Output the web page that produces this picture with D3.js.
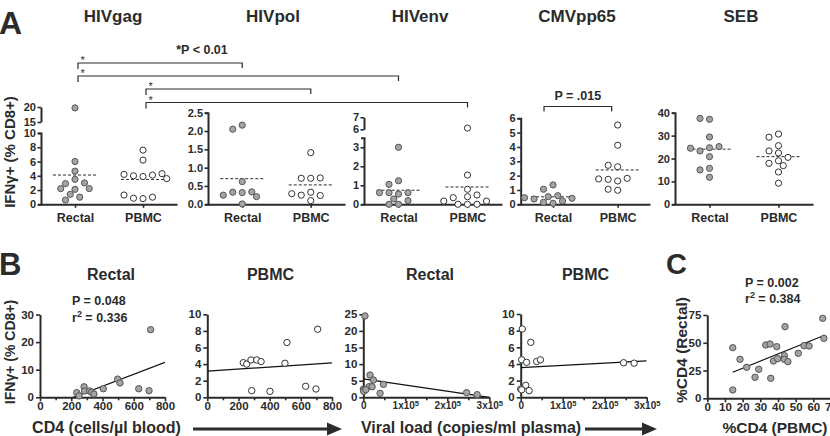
<!DOCTYPE html>
<html><head><meta charset="utf-8">
<script src="https://cdn.jsdelivr.net/npm/d3@7"></script>
<style>
body{margin:0;background:#fff;}
svg text{font-family:"Liberation Sans",Arial,Helvetica,sans-serif;font-weight:bold;fill:#2b2b2b;}
</style></head><body><svg id="c" width="830" height="436"></svg>
<script>
// ================= DATA =================
const groupNames = ["Rectal", "PBMC"];
const antigenNames = ["HIVgag", "HIVpol", "HIVenv", "CMVpp65", "SEB"];

// Panel A: IFNg+ (% CD8+) per subject
const gagRectal = [19.7, 6.0, 4.65, 3.5, 2.9, 3.0, 2.1, 2.2, 2.2, 1.4, 1.0, 0.6];
const gagPBMC   = [7.6, 6.2, 3.9, 4.0, 4.1, 4.2, 4.3, 3.6, 0.8, 0.85, 1.0, 1.3];
const polRectal = [2.16, 2.05, 0.62, 0.32, 0.33, 0.34, 0.25, 0.21, 0.01];
const polPBMC   = [1.41, 0.71, 0.71, 0.72, 0.1, 0.33, 0.25, 0.24, 0.29];
const envRectal = [3.0, 1.24, 1.05, 0.54, 0.61, 0.61, 0.61, 0.0, 0.0, 0.19, 0.28];
const envPBMC   = [6.1, 1.54, 0.79, 0.0, 0.0, 0.0, 0.4, 0.35, 0.49, 0.17, 0.17];
const cmvRectal = [1.35, 1.05, 0.07, 0.14, 0.23, 0.37, 0.42, 0.46, 0.53, 0.6];
const cmvPBMC   = [5.53, 4.12, 2.62, 2.72, 1.63, 1.74, 1.81, 1.77, 0.98, 1.05];
const sebRectal = [37.1, 37.5, 29.4, 24.7, 23.3, 25.2, 24.5, 20.8, 15.7, 15.0, 11.8];
const sebPBMC   = [30.7, 29.3, 25.6, 22.4, 23.3, 19.0, 20.5, 17.9, 16.9, 14.1, 9.2];

// Panel A tick labels
const gagTicksLow = [0, 2, 4, 6, 8, 10], gagTicksHigh = [15, 20];
const polTicks = [0, 0.5, 1.0, 1.5, 2.0, 2.5];
const envTicksLow = [0, 1, 2, 3], envTicksHigh = [6, 7];
const cmvTicks = [0, 1, 2, 3, 4, 5, 6];
const sebTicks = [0, 10, 20, 30, 40];

// Panel A significance
const sigLabel = "*P < 0.01";
const sigPairs = [ // [antigen, group] -> [antigen, group]
  ["HIVgag", "Rectal", "HIVpol", "Rectal"],
  ["HIVgag", "Rectal", "HIVenv", "Rectal"],
  ["HIVgag", "PBMC", "HIVpol", "PBMC"],
  ["HIVgag", "PBMC", "HIVenv", "PBMC"]
];
const cmvLabel = "P = .015";

// Panel B: CD4 count vs IFNg+
const cd4Rectal  = [708, 235, 250, 282, 285, 318, 330, 345, 405, 497, 512, 632, 698];
const ifnRectalB = [24.5, 1.7, 0.5, 3.8, 2.3, 2.3, 1.8, 1.2, 3.1, 6.6, 5.2, 3.1, 2.4];
const cd4PBMC    = [231, 253, 280, 317, 345, 285, 402, 498, 511, 631, 697, 708];
const ifnPBMCB   = [4.17, 4.0, 4.5, 4.5, 4.3, 0.8, 0.72, 4.1, 6.6, 1.33, 1.0, 8.2];
// Panel B: viral load vs IFNg+
const vlRectal   = [4000, 0, 4000, 16000, 24000, 13500, 21000, 48000, 40000, 246000, 271000, 1000, 6000];
const ifnRectalV = [24.5, 2.4, 2.4, 6.7, 5.2, 3.2, 3.2, 3.9, 1.2, 1.4, 0.8, 1.8, 2.3];
const vlPBMC     = [3800, 24000, 2400, 14000, 38000, 47000, 12000, 0, 2400, 20000, 245000, 270000];
const ifnPBMCV   = [8.2, 6.6, 4.5, 4.2, 4.3, 4.5, 1.44, 1.0, 0.9, 0.8, 4.15, 4.1];
const statsB1 = ["P = 0.048", "0.336"];
const statsC  = ["P = 0.002", "0.384"];

// Panel C: %CD4 PBMC vs %CD4 rectal
const cd4pctPBMC   = [14.4, 14.4, 18.5, 22.3, 27.0, 29.1, 33.1, 35.5, 35.9, 39.3, 37.4, 39.8, 43.6, 44.0, 43.6, 45.6, 51.5, 54.7, 57.6, 65.3, 66.0];
const cd4pctRectal = [45.6, 7.5, 35.1, 27.9, 18.9, 26.1, 48.0, 48.9, 18.0, 46.5, 33.6, 35.7, 38.4, 64.5, 35.1, 33.0, 40.5, 47.4, 47.1, 72.0, 54.0];

const cd4Ticks = [0, 200, 400, 600, 800], cd4Minor = [100, 300, 500, 700];
const vlTicks = [0, 100000, 200000, 300000], vlMinor = [50000, 150000, 250000];
const pctTicks = [0, 10, 20, 30, 40, 50, 60, 70];

// ================= DRAWING =================
const FONT = '"Liberation Sans", Arial, Helvetica, sans-serif';
const INK = "#2b2b2b", GREY = "#a4a4a4";
const svg = d3.select("#c");

function styleAxis(g, fs) {
  g.attr("font-family", null).attr("font-size", null);
  g.select(".domain").attr("stroke", INK).attr("stroke-width", 2);
  g.selectAll(".tick line").attr("stroke", INK).attr("stroke-width", 1.6);
  g.selectAll(".tick text").attr("fill", INK).style("font-size", fs + "px")
    .style("font-weight", "bold").style("font-family", FONT);
}
function txt(x, y, s, fs, anchor, rot) {
  const t = svg.append("text").attr("font-size", fs).attr("text-anchor", anchor || "start").text(s);
  if (rot) t.attr("transform", `translate(${x},${y}) rotate(${rot})`); else t.attr("x", x).attr("y", y);
  return t;
}
function swarm(vals, cx, yf, r, h) {
  const placed = [];
  vals.forEach(v => {
    const y = yf(v);
    for (let k = 0; k < 60; k++) {
      const n = Math.ceil(k / 2), off = k === 0 ? 0 : (k % 2 ? -n : n) * h;
      const x = cx + off;
      if (placed.every(p => Math.hypot(p.x - x, p.y - y) >= 2 * r + 0.5)) { placed.push({ x, y, v }); break; }
    }
  });
  return placed;
}

// ---- Panel A ----
const Y0 = 204.3;
const panelsA = [
  { name: "HIVgag", data: [gagRectal, gagPBMC], x: [41, 177], tx: 113,
    low: [0, 10], lowR: [Y0, 133], lowT: gagTicksLow, high: [15, 20], highR: [122, 107], highT: gagTicksHigh, fmt: d3.format("d") },
  { name: "HIVpol", data: [polRectal, polPBMC], x: [208, 345], tx: 273,
    low: [0, 2.5], lowR: [Y0, 112.7], lowT: polTicks, fmt: d3.format(".1f") },
  { name: "HIVenv", data: [envRectal, envPBMC], x: [364, 502], tx: 420,
    low: [0, 3.5], lowR: [Y0, 137.8], lowT: envTicksLow, high: [6, 7], highR: [129.3, 117.3], highT: envTicksHigh, fmt: d3.format("d") },
  { name: "CMVpp65", data: [cmvRectal, cmvPBMC], x: [520.7, 650], tx: 577,
    low: [0, 6], lowR: [Y0, 118.3], lowT: cmvTicks, fmt: d3.format("d") },
  { name: "SEB", data: [sebRectal, sebPBMC], x: [675, 813], tx: 741,
    low: [0, 40], lowR: [Y0, 112.7], lowT: sebTicks, fmt: d3.format("d") }
];
const catPos = {};
panelsA.forEach((p, i) => {
  const xs = d3.scalePoint().domain(groupNames).range(p.x).padding(0.5);
  const yl = d3.scaleLinear().domain(p.low).range(p.lowR);
  const yh = p.high ? d3.scaleLinear().domain(p.high).range(p.highR) : null;
  const yf = v => (yh && v > p.low[1]) ? yh(v) : yl(v);
  catPos[p.name] = g => xs(g);

  txt(p.tx, 22, antigenNames[i], 17, "middle");

  const ga = svg.append("g").attr("transform", `translate(${p.x[0]},0)`)
    .call(d3.axisLeft(yl).tickValues(p.lowT).tickFormat(p.fmt).tickSize(3.5).tickPadding(1.5).tickSizeOuter(3));
  styleAxis(ga, 11);
  if (yh) {
    const gh = svg.append("g").attr("transform", `translate(${p.x[0]},0)`)
      .call(d3.axisLeft(yh).tickValues(p.highT).tickFormat(p.fmt).tickSize(3.5).tickPadding(1.5).tickSizeOuter(0));
    styleAxis(gh, 11);
  }
  const gx = svg.append("g").attr("transform", `translate(0,${Y0})`)
    .call(d3.axisBottom(xs).tickSize(3.5).tickPadding(5.5).tickSizeOuter(0));
  styleAxis(gx, 12.5);

  p.data.forEach((vals, gi) => {
    const cx = xs(groupNames[gi]);
    const m = d3.mean(vals);
    svg.append("line").attr("x1", cx - 22).attr("x2", cx + 22).attr("y1", yf(m)).attr("y2", yf(m))
      .attr("stroke", INK).attr("stroke-width", 1).attr("stroke-dasharray", "3,2");
    const pts = swarm(vals, cx, yf, 3.1, 4.75);
    svg.selectAll(null).data(pts).enter().append("circle")
      .attr("cx", d => d.x).attr("cy", d => d.y).attr("r", 3.1)
      .attr("fill", gi === 0 ? GREY : "#fff").attr("stroke", gi === 0 ? "#555" : "#333").attr("stroke-width", 1);
  });
});
// significance brackets
const bracketY = [63, 76, 89, 102.5];
sigPairs.forEach((s, i) => {
  const xa = catPos[s[0]](s[1]) + 3, xb = catPos[s[2]](s[3]);
  const yb = bracketY[i];
  svg.append("path").attr("d", `M${xa},${yb + 6}V${yb}H${xb}V${yb + 5}`)
    .attr("fill", "none").attr("stroke", INK).attr("stroke-width", 1.2);
  svg.append("text").attr("x", xa + 2.5).attr("y", yb + 1).attr("font-size", 11)
    .style("font-weight", "normal").text("*");
});
txt(202, 54, sigLabel, 12.5, "middle");
{
  const xa = catPos["CMVpp65"]("Rectal") - 9, xb = catPos["CMVpp65"]("PBMC") - 6;
  svg.append("path").attr("d", `M${xa},111.5V106.5H${xb}V111.5`).attr("fill", "none").attr("stroke", INK).attr("stroke-width", 1.2);
  txt((xa + xb) / 2, 100, cmvLabel, 12.5, "middle");
}
txt(15, 152, "IFNγ+ (% CD8+)", 15, "middle", -90);
txt(-1, 34, "A", 32);

// ---- Panels B & C ----
function fit(xs, ys) {
  const mx = d3.mean(xs), my = d3.mean(ys);
  let sxy = 0, sxx = 0;
  xs.forEach((x, i) => { sxy += (x - mx) * (ys[i] - my); sxx += (x - mx) * (x - mx); });
  const b = sxy / sxx;
  return { b, a: my - b * mx };
}
function supFmt(sel) {
  sel.each(function (d) {
    const t = d3.select(this); t.text(null);
    if (d === 0) { t.text("0"); return; }
    t.append("tspan").text((d / 1e5) + "x10");
    t.append("tspan").attr("dy", "-0.45em").style("font-size", "7.5px").text("5");
  });
}
let clipN = 0;
function scatter(o) {
  const x = d3.scaleLinear().domain(o.xd).range([o.x0, o.x1]);
  const y = d3.scaleLinear().domain(o.yd).range([o.y0, o.y1]);
  txt(o.tx, 280, o.title, 16, "middle");
  const gy = svg.append("g").attr("transform", `translate(${o.x0},0)`)
    .call(d3.axisLeft(y).tickValues(o.yt).tickSize(4).tickPadding(2).tickSizeOuter(0));
  styleAxis(gy, 11.5);
  const gx = svg.append("g").attr("transform", `translate(0,${o.y0})`)
    .call(d3.axisBottom(x).tickValues(o.xt).tickSize(4).tickPadding(1).tickSizeOuter(0)
      .tickFormat(o.sup ? d => d : d3.format("d")));
  styleAxis(gx, o.sup ? 10 : 11.5);
  if (o.sup) supFmt(gx.selectAll(".tick text"));
  if (o.xm) {
    const gm = svg.append("g").attr("transform", `translate(0,${o.y0})`)
      .call(d3.axisBottom(x).tickValues(o.xm).tickSize(3).tickFormat("").tickSizeOuter(0));
    styleAxis(gm, 10); gm.select(".domain").remove();
  }
  const id = "clip" + (clipN++);
  svg.append("clipPath").attr("id", id).append("rect")
    .attr("x", o.x0).attr("y", o.y1).attr("width", o.x1 - o.x0).attr("height", o.y0 - o.y1);
  const f = fit(o.xs, o.ys);
  const ext = o.lineData ? d3.extent(o.xs) : o.xd;
  svg.append("line").attr("clip-path", `url(#${id})`)
    .attr("x1", x(ext[0])).attr("y1", y(f.a + f.b * ext[0]))
    .attr("x2", x(ext[1])).attr("y2", y(f.a + f.b * ext[1]))
    .attr("stroke", "#111").attr("stroke-width", 1.2);
  svg.selectAll(null).data(o.xs).enter().append("circle")
    .attr("cx", d => x(d)).attr("cy", (d, i) => y(o.ys[i])).attr("r", 3.2)
    .attr("fill", o.filled ? GREY : "#fff").attr("stroke", o.filled ? "#555" : "#333").attr("stroke-width", 1);
}
scatter({ x0: 40, x1: 165, y0: 397.3, y1: 314.5, xd: [0, 800], yd: [0, 30], xt: cd4Ticks, xm: cd4Minor, yt: [0, 10, 20, 30],
  xs: cd4Rectal, ys: ifnRectalB, filled: true, title: groupNames[0], tx: 111 });
scatter({ x0: 207.3, x1: 332, y0: 397.3, y1: 314.3, xd: [0, 800], yd: [0, 10], xt: cd4Ticks, xm: cd4Minor, yt: [0, 2, 4, 6, 8, 10],
  xs: cd4PBMC, ys: ifnPBMCB, filled: false, title: groupNames[1], tx: 270.5 });
scatter({ x0: 363.3, x1: 489.3, y0: 397.3, y1: 314.3, xd: [0, 300000], yd: [0, 25], xt: vlTicks, xm: vlMinor, yt: [0, 5, 10, 15, 20, 25], sup: true,
  xs: vlRectal, ys: ifnRectalV, filled: true, title: groupNames[0], tx: 430 });
scatter({ x0: 520.7, x1: 646.7, y0: 397.3, y1: 314, xd: [0, 300000], yd: [0, 10], xt: vlTicks, xm: vlMinor, yt: [0, 2, 4, 6, 8, 10], sup: true,
  xs: vlPBMC, ys: ifnPBMCV, filled: false, title: groupNames[1], tx: 585.5 });
scatter({ x0: 707.3, x1: 831, y0: 398.3, y1: 315, xd: [0, 70], yd: [0, 75], xt: pctTicks, yt: [0, 25, 50, 75],
  xs: cd4pctPBMC, ys: cd4pctRectal, filled: true, title: "", tx: 0, lineData: true });

function rsq(x0, y0, val) {
  const t = svg.append("text").attr("x", x0).attr("y", y0).attr("font-size", 12.5);
  t.append("tspan").text("r");
  t.append("tspan").attr("dy", -5).style("font-size", "9px").text("2");
  t.append("tspan").attr("dy", 5).text(" = " + val);
}
txt(72, 305, statsB1[0], 12.5); rsq(72, 322, statsB1[1]);
txt(745, 287, statsC[0], 12.5); rsq(745, 303, statsC[1]);

txt(15, 352, "IFNγ+ (% CD8+)", 14, "middle", -90);
txt(687, 350, "%CD4 (Rectal)", 15.5, "middle", -90);
txt(106.5, 433, "CD4 (cells/µl blood)", 16, "middle");
txt(471, 433, "Viral load (copies/ml plasma)", 16, "middle");
txt(775, 433, "%CD4 (PBMC)", 15.5, "middle");
function arrow(xa, xb, yy) {
  svg.append("line").attr("x1", xa).attr("x2", xb - 12).attr("y1", yy).attr("y2", yy).attr("stroke", INK).attr("stroke-width", 3);
  svg.append("path").attr("d", `M${xb - 15},${yy - 6.5}L${xb},${yy}L${xb - 15},${yy + 6.5}Z`).attr("fill", INK);
}
arrow(193, 342, 429);
arrow(585, 657, 429);
txt(-1, 275, "B", 31);
txt(666, 274, "C", 29);
</script></body></html>
